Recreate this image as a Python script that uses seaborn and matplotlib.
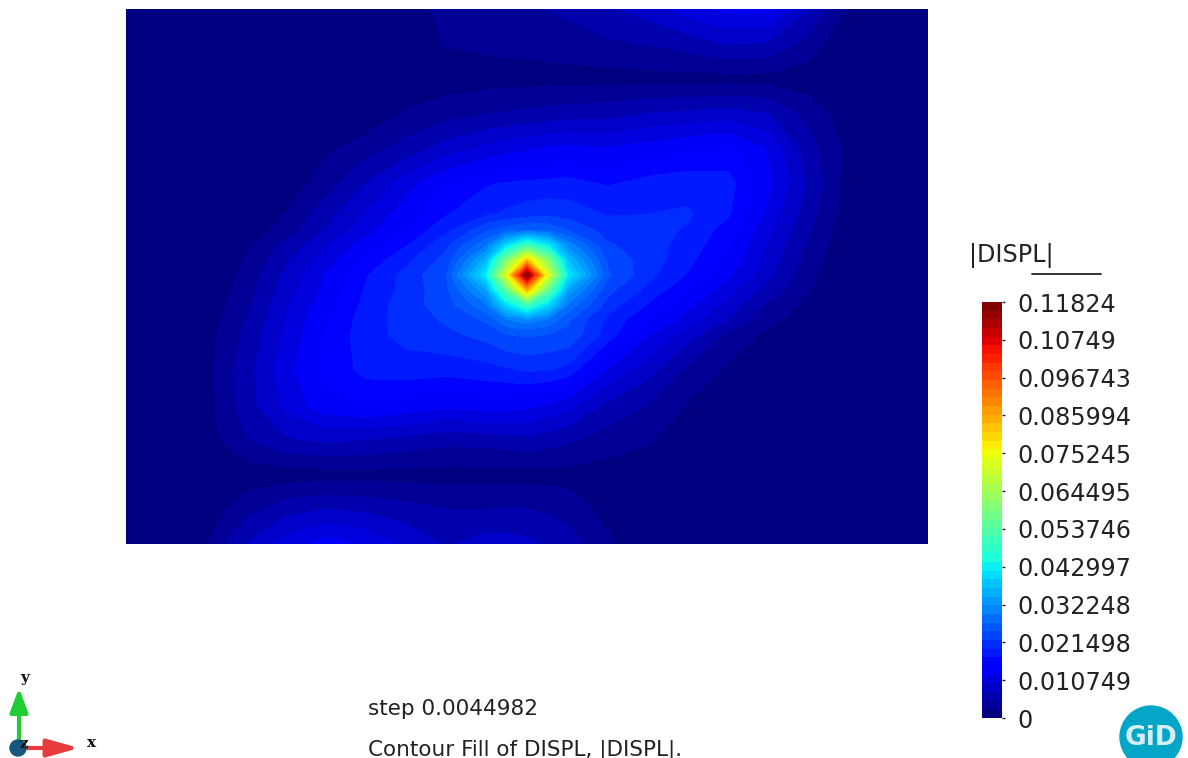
import matplotlib
matplotlib.use("Agg")
import numpy as np
import matplotlib.pyplot as plt
import seaborn as sns
from matplotlib.colors import ListedColormap
from matplotlib.patches import Circle

# Mesh positions (model units, y measured down from the top edge)
x_nodes = [0, 40, 80, 120, 160, 200, 240, 280, 320, 360, 380, 401, 422, 442, 482, 522, 562, 602, 642, 682, 722, 762, 802]
y_nodes = [0, 35, 70, 105, 140, 175, 205, 221, 236, 251, 266, 281, 296, 311, 326, 361, 396, 431, 466, 501, 535]

# |DISPL| x 1000
displ_milli = [
    [0, 0, 0, 0, 0, 0, 0, 1.5, 3, 3.5, 4, 4.5, 5, 5.5, 7, 8.5, 11, 13, 13, 7.5, 2, 0, 0],
    [0, 0, 0, 0, 0, 0, 0, 1, 2.6, 2.9, 3.1, 3.2, 3.4, 3.6, 4.5, 5, 6, 7.5, 7, 4, 0, 0, 0],
    [0, 0, 0, 0, 0, 0, 0, 0.5, 1, 1.4, 1.5, 1.5, 1.5, 1.5, 1.5, 1.5, 1.5, 1.5, 1.5, 1, 0, 0, 0],
    [0, 0, 0, 0, 0, 0, 0.5, 2.8, 4, 4.8, 5.2, 5.5, 5.9, 6.2, 6.5, 7.5, 8, 8.5, 7.5, 4, 1, 0, 0],
    [0, 0, 0, 0, 0, 2, 4, 6, 8.5, 10.5, 11.3, 12, 12.6, 13, 12.5, 13.5, 14.5, 15.5, 12, 6, 1.8, 0, 0],
    [0, 0, 0, 0, 1, 3.8, 7.5, 11.2, 14.7, 17, 17.5, 17.8, 18, 18.2, 17, 18.3, 18.8, 18.2, 13, 7, 1.3, 0, 0],
    [0, 0, 0, 0.5, 2.6, 6.5, 10, 13.6, 17, 19.3, 20.2, 21, 21.5, 21, 19.5, 19.7, 20, 17.6, 11.5, 6, 1, 0, 0],
    [0, 0, 0, 1, 3.5, 7.5, 11.3, 15, 19, 24, 26, 27, 26.5, 24.5, 21, 20.3, 19.5, 16, 10.5, 5.2, 0.6, 0, 0],
    [0, 0, 0, 2, 5.5, 9.5, 13.5, 17, 21.5, 29, 40, 50, 42, 31, 22.5, 20.7, 18.8, 15, 9.5, 4.5, 0.4, 0, 0],
    [0, 0, 0, 2.6, 7, 11, 15.5, 19, 23, 36, 58, 82, 60, 37, 24, 21, 18, 14, 9, 3.9, 0.2, 0, 0],
    [0, 0, 0, 3.2, 8, 12.5, 17, 20.5, 24.5, 42, 72, 118.24, 72, 42, 25, 20.5, 17, 12.8, 8, 3.3, 0, 0, 0],
    [0, 0, 0, 3.8, 8.6, 13, 17.5, 20.5, 24, 34, 54, 84, 55, 34, 23, 19, 15, 10.8, 6.5, 2.6, 0, 0, 0],
    [0, 0, 0.5, 4.4, 9.5, 13.8, 18, 21, 23.5, 29, 40, 50, 40, 29, 21, 17, 13, 9, 4.5, 1.8, 0, 0, 0],
    [0, 0, 1, 5, 10, 14.5, 18.5, 20.8, 22.5, 25, 29, 31, 29, 25, 19, 15, 11, 7.3, 3.2, 1, 0, 0, 0],
    [0, 0, 1.3, 5.5, 10.5, 15, 18.7, 20.5, 21.5, 23, 24.5, 25, 24.5, 24, 18.5, 12.5, 8.5, 4.2, 1.8, 0.5, 0, 0, 0],
    [0, 0, 1.8, 6.3, 11.5, 15.5, 18, 18.5, 18.2, 18.7, 19.3, 20, 19.8, 18.8, 12, 8.3, 4.3, 2, 0.5, 0, 0, 0, 0],
    [0, 0, 1.5, 6.2, 10.5, 14, 15, 14, 13, 13.8, 13.5, 13, 12, 10.8, 6.7, 4.8, 2.2, 0.5, 0, 0, 0, 0, 0],
    [0, 0, 1.2, 4.7, 7, 7.8, 7.3, 6.5, 5.6, 5.9, 6.2, 6.6, 6, 5.3, 3.8, 2.8, 0.8, 0, 0, 0, 0, 0, 0],
    [0, 0, 0, 1, 1.2, 1.4, 1.5, 1.5, 1.5, 1.5, 1.5, 1.5, 1.5, 1.5, 1.2, 0.5, 0, 0, 0, 0, 0, 0, 0],
    [0, 0, 1, 4, 6.5, 7.5, 7, 6, 5, 5, 5.2, 5, 4.6, 4, 1.5, 0, 0, 0, 0, 0, 0, 0, 0],
    [0, 0, 2.4, 7.5, 11, 13.5, 12, 9.5, 7, 8.5, 8.4, 8, 7, 6, 3, 0, 0, 0, 0, 0, 0, 0, 0],
]

tick_values = [0.11824, 0.10749, 0.096743, 0.085994, 0.075245, 0.064495,
               0.053746, 0.042997, 0.032248, 0.021498, 0.010749, 0]
tick_labels = ["0.11824", "0.10749", "0.096743", "0.085994", "0.075245", "0.064495",
               "0.053746", "0.042997", "0.032248", "0.021498", "0.010749", "0"]

N_BANDS = 48
VMAX = 0.11824
W, H = 1188, 758

sns.set_theme(style="white")
plt.rcParams["font.family"] = ["DejaVu Sans"]
# seaborn refuses the name "jet", so hand it the sampled colours
palette = sns.color_palette(plt.get_cmap("jet")(np.linspace(0, 1, N_BANDS))[:, :3].tolist())
levels = np.linspace(0, VMAX, N_BANDS + 1)
displ = np.array(displ_milli) / 1000.0


def px_axes(fig, left, top, right, bottom):
    return fig.add_axes([left / W, 1 - bottom / H, (right - left) / W, (bottom - top) / H])


fig = plt.figure(figsize=(W / 100, H / 100), dpi=100, facecolor="white")

# Contour fill
ax = px_axes(fig, 126, 9, 928, 544)
ax.contourf(x_nodes, y_nodes, displ, levels=levels, colors=palette)
ax.set_xlim(x_nodes[0], x_nodes[-1])
ax.set_ylim(y_nodes[-1], y_nodes[0])
ax.axis("off")

# Colour legend
cax = px_axes(fig, 982, 302, 1002, 718)
bar = np.linspace(VMAX, 0, N_BANDS).reshape(-1, 1)
sns.heatmap(bar, ax=cax, cmap=ListedColormap(palette), cbar=False,
            xticklabels=False, yticklabels=False)
cax.yaxis.tick_right()
cax.set_yticks([N_BANDS * (1 - v / VMAX) for v in tick_values])
cax.set_yticklabels(tick_labels, rotation=0, fontsize=17.2, color="#222222")
cax.tick_params(axis="y", length=2, width=1, pad=9, color="#222222", right=True, left=False)

# Overlay in picture pixels for legend title, triad, captions, logo
over = fig.add_axes([0, 0, 1, 1])
over.set_xlim(0, W)
over.set_ylim(H, 0)
over.axis("off")
over.patch.set_alpha(0)

over.text(969, 256, "|DISPL|", fontsize=17.2, color="#222222", va="center", ha="left")
over.plot([1032, 1101], [274, 274], color="#222222", lw=1.3)

over.text(368, 709, "step 0.0044982", fontsize=15.5, color="#222222", va="center", ha="left")
over.text(368, 750, "Contour Fill of DISPL, |DISPL|.", fontsize=15.5, color="#222222", va="center", ha="left")

over.annotate("", xy=(19, 688), xytext=(19, 745),
              arrowprops=dict(arrowstyle="-|>,head_width=0.45,head_length=1.2", color="#22cc33", lw=3, shrinkA=0, shrinkB=0))
over.annotate("", xy=(79, 748), xytext=(20, 748),
              arrowprops=dict(arrowstyle="-|>,head_width=0.45,head_length=1.6", color="#e83c3c", lw=3, shrinkA=0, shrinkB=0))
over.add_patch(Circle((18, 748), 8, color="#17567f", zorder=4))
over.text(25, 678, "y", family="DejaVu Serif", weight="bold", fontsize=11, color="#111111", ha="center", va="center")
over.text(24, 744, "z", family="DejaVu Serif", weight="bold", fontsize=11, color="#111111", ha="center", va="center", zorder=5)
over.text(92, 743, "x", family="DejaVu Serif", weight="bold", fontsize=11, color="#111111", ha="center", va="center")

over.add_patch(Circle((1151, 737), 31, color="#04a6c8", zorder=3))
over.text(1151, 738, "GiD", fontsize=19, weight="bold", color="#d6eef3", ha="center", va="center", zorder=4)

fig.savefig("out.png", dpi=100)
plt.close(fig)
